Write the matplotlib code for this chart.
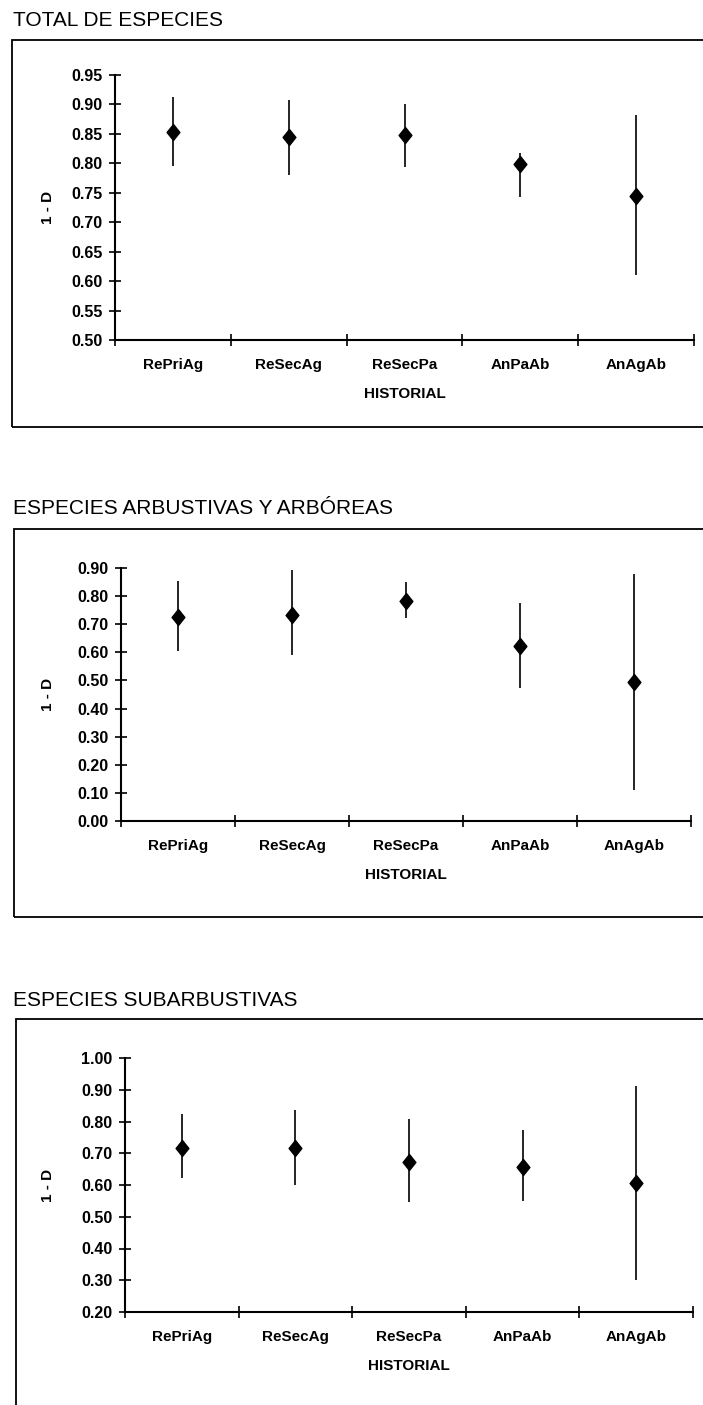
import numpy as np
import matplotlib.pyplot as plt
from matplotlib.patches import Rectangle
from matplotlib.ticker import FormatStrFormatter

plt.rcParams['font.family'] = ['Liberation Sans', 'DejaVu Sans']

# Datos (indice 1 - D)
categorias = ['RePriAg', 'ReSecAg', 'ReSecPa', 'AnPaAb', 'AnAgAb']

total_media = [0.853, 0.844, 0.848, 0.799, 0.745]
total_sup = [0.913, 0.907, 0.901, 0.817, 0.882]
total_inf = [0.795, 0.781, 0.793, 0.742, 0.611]

arb_media = [0.724, 0.734, 0.784, 0.624, 0.494]
arb_sup = [0.853, 0.894, 0.850, 0.776, 0.879]
arb_inf = [0.603, 0.589, 0.722, 0.473, 0.110]

sub_media = [0.718, 0.716, 0.674, 0.658, 0.605]
sub_sup = [0.823, 0.837, 0.807, 0.772, 0.911]
sub_inf = [0.621, 0.600, 0.545, 0.551, 0.300]

titulos = ['TOTAL DE ESPECIES', 'ESPECIES ARBUSTIVAS Y ARBÓREAS', 'ESPECIES SUBARBUSTIVAS']
ticks_total = np.arange(0.50, 0.951, 0.05)
ticks_arb = np.arange(0.0, 0.901, 0.10)
ticks_sub = np.arange(0.20, 1.001, 0.10)

W, H = 703, 1405
fig = plt.figure(figsize=(W / 100, H / 100), dpi=100)

def fx(px):
    return px / W

def fy(py):
    return 1 - py / H

# posiciones en pixeles: titulo (y), marco (izq, arriba, abajo), ejes (izq, der, arriba, abajo)
paneles = [
    dict(titulo=titulos[0], media=total_media, sup=total_sup, inf=total_inf, ticks=ticks_total,
         ty=21, marco=(12, 40, 427), ejes=(115, 694, 75, 340)),
    dict(titulo=titulos[1], media=arb_media, sup=arb_sup, inf=arb_inf, ticks=ticks_arb,
         ty=509, marco=(14, 529, 917), ejes=(121, 691, 568, 821)),
    dict(titulo=titulos[2], media=sub_media, sup=sub_sup, inf=sub_inf, ticks=ticks_sub,
         ty=1000, marco=(16, 1019, 1430), ejes=(125, 693, 1058, 1312)),
]

rombo = [(0, 1), (0.8, 0), (0, -1), (-0.8, 0), (0, 1)]

for p in paneles:
    x0, x1, y0, y1 = p['ejes']
    ax = fig.add_axes([fx(x0), fy(y1), (x1 - x0) / W, (y1 - y0) / H])

    media = np.array(p['media'])
    err = [media - np.array(p['inf']), np.array(p['sup']) - media]
    pos = np.arange(len(categorias)) + 0.5
    ax.errorbar(pos, media, yerr=err, fmt='none', ecolor='black', elinewidth=1.2, capsize=0)
    ax.plot(pos, media, linestyle='none', marker=rombo, markersize=11.5, color='black')

    ax.set_xlim(0, len(categorias))
    ax.set_ylim(p['ticks'][0], p['ticks'][-1])
    ax.set_yticks(p['ticks'])
    ax.yaxis.set_major_formatter(FormatStrFormatter('%.2f'))
    ax.set_xticks(np.arange(len(categorias) + 1))
    ax.set_xticklabels([])
    ax.set_xticks(pos, minor=True)
    ax.set_xticklabels(categorias, minor=True, fontsize=11, fontweight='bold')

    ax.tick_params(axis='y', direction='inout', length=8, width=1.2, pad=5, labelsize=11.5)
    ax.tick_params(axis='x', which='major', direction='inout', length=8, width=1.2)
    ax.tick_params(axis='x', which='minor', length=0, pad=13)
    for lab in ax.get_yticklabels():
        lab.set_fontweight('bold')

    for s in ['top', 'right']:
        ax.spines[s].set_visible(False)
    for s in ['left', 'bottom']:
        ax.spines[s].set_linewidth(1.5)

    h_ax = y1 - y0
    ax.text(0.5, -54 / h_ax, 'HISTORIAL', transform=ax.transAxes, ha='center', va='center',
            fontsize=11, fontweight='bold')
    ax.text((48 - x0) / (x1 - x0), 0.5, '1 - D', transform=ax.transAxes, ha='center', va='center',
            rotation=90, fontsize=11, fontweight='bold')

    fig.text(fx(13), fy(p['ty']), p['titulo'], ha='left', va='center', fontsize=15)

    ml, mt, mb = p['marco']
    fig.patches.append(Rectangle((fx(ml), fy(mb)), fx(760) - fx(ml), fy(mt) - fy(mb),
                                 transform=fig.transFigure, fill=False, edgecolor='black',
                                 linewidth=1.3, clip_on=False))

fig.savefig('out.png', dpi=100)
